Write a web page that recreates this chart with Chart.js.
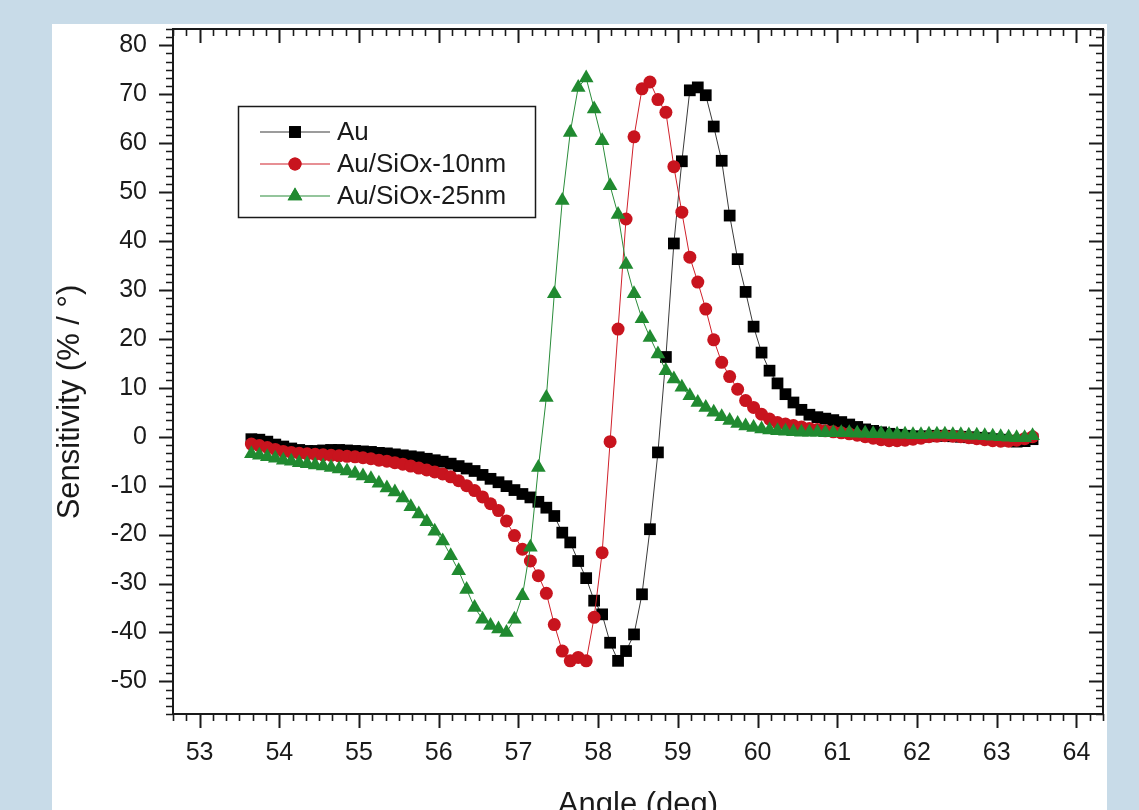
<!DOCTYPE html>
<html>
<head>
<meta charset="utf-8">
<script src="https://cdn.jsdelivr.net/npm/chart.js@4.4.1/dist/chart.umd.min.js"></script>
<style>
  html, body { margin: 0; padding: 0; background: #c8dbe8; overflow: hidden; }
  #panel { position: absolute; left: 52px; top: 24px; width: 1055px; height: 820px; background: #fff; }
  canvas { display: block; }
</style>
</head>
<body>
<div id="panel"><canvas id="sensChart" width="1055" height="820"></canvas></div>
<script>
// Angle of incidence (deg), shared by all three curves
const angles = [
  53.65, 53.75, 53.85, 53.95, 54.05, 54.15, 54.25, 54.35, 54.45, 54.55,
  54.65, 54.75, 54.85, 54.95, 55.05, 55.15, 55.25, 55.35, 55.45, 55.55,
  55.65, 55.75, 55.85, 55.95, 56.05, 56.15, 56.25, 56.35, 56.45, 56.55,
  56.65, 56.75, 56.85, 56.95, 57.05, 57.15, 57.25, 57.35, 57.45, 57.55,
  57.65, 57.75, 57.85, 57.95, 58.05, 58.15, 58.25, 58.35, 58.45, 58.55,
  58.65, 58.75, 58.85, 58.95, 59.05, 59.15, 59.25, 59.35, 59.45, 59.55,
  59.65, 59.75, 59.85, 59.95, 60.05, 60.15, 60.25, 60.35, 60.45, 60.55,
  60.65, 60.75, 60.85, 60.95, 61.05, 61.15, 61.25, 61.35, 61.45, 61.55,
  61.65, 61.75, 61.85, 61.95, 62.05, 62.15, 62.25, 62.35, 62.45, 62.55,
  62.65, 62.75, 62.85, 62.95, 63.05, 63.15, 63.25, 63.35, 63.45
];

// Sensitivity (% / deg)
const au = [
  -0.5, -0.6, -1.0, -1.6, -2.0, -2.4, -2.7, -2.9, -2.9, -2.8,
  -2.7, -2.7, -2.8, -2.9, -3.0, -3.1, -3.3, -3.4, -3.6, -3.8,
  -4.0, -4.2, -4.5, -4.8, -5.1, -5.5, -6.0, -6.5, -7.0, -7.8,
  -8.6, -9.3, -10.1, -10.9, -11.7, -12.4, -13.3, -14.5, -16.2, -19.6,
  -21.6, -25.4, -28.9, -33.5, -36.3, -42.1, -45.8, -43.8, -40.4, -32.2,
  -18.9, -3.2, 16.3, 39.5, 56.3, 70.8, 71.4, 69.8, 63.4, 56.4,
  45.2, 36.3, 29.6, 22.5, 17.2, 13.5, 10.9, 8.7, 7.0, 5.5,
  4.5, 4.0, 3.7, 3.4, 3.0, 2.5, 2.0, 1.5, 1.2, 0.9,
  0.6, 0.4, 0.2, 0.1, 0.0, 0.1, 0.2, 0.2, 0.1, 0.0,
  -0.1, -0.2, -0.3, -0.5, -0.6, -0.8, -1.0, -0.9, -0.5
];
const au10 = [
  -1.5, -1.8, -2.2, -2.6, -3.0, -3.2, -3.4, -3.5, -3.6, -3.7,
  -3.8, -3.9, -4.0, -4.1, -4.3, -4.5, -4.8, -5.0, -5.3, -5.6,
  -6.0, -6.4, -6.8, -7.2, -7.6, -8.2, -9.0, -10.0, -11.0, -12.3,
  -13.7, -15.1, -17.2, -20.2, -23.0, -25.4, -28.4, -32.0, -38.4, -43.8,
  -45.8, -45.1, -45.8, -36.9, -23.7, -1.0, 22.0, 44.5, 61.3, 71.1,
  72.5, 68.9, 66.3, 55.2, 45.9, 36.7, 31.6, 26.1, 19.8, 15.2,
  12.3, 9.7, 7.4, 6.0, 4.6, 3.6, 2.9, 2.6, 2.3, 2.0,
  1.7, 1.5, 1.2, 1.0, 0.8, 0.6, 0.3, 0.0, -0.3, -0.6,
  -0.8, -0.8, -0.7, -0.5, -0.3, 0.0, 0.1, 0.2, 0.1, 0.0,
  -0.2, -0.4, -0.6, -0.8, -0.9, -0.9, -0.7, -0.4, 0.0
];
const au25 = [
  -3.5, -3.8, -4.1, -4.4, -4.8, -5.0, -5.3, -5.5, -5.8, -6.0,
  -6.3, -6.6, -7.0, -7.5, -8.0, -8.6, -9.5, -10.5, -11.3, -12.5,
  -14.3, -15.8, -17.4, -19.3, -21.3, -24.3, -27.4, -31.2, -34.9, -37.3,
  -38.6, -39.3, -40.0, -37.3, -32.5, -22.6, -6.3, 8.0, 29.2, 48.3,
  62.2, 71.4, 73.3, 67.0, 60.5, 51.3, 45.4, 35.2, 29.2, 24.1,
  20.3, 16.9, 13.5, 11.8, 10.1, 8.4, 7.0, 6.0, 5.0, 4.1,
  3.3, 2.7, 2.2, 1.9, 1.6, 1.4, 1.2, 1.1, 1.0, 0.9,
  0.9, 0.9, 0.8, 0.8, 0.8, 0.8, 0.7, 0.7, 0.6, 0.6,
  0.5, 0.5, 0.5, 0.4, 0.4, 0.5, 0.5, 0.5, 0.4, 0.4,
  0.3, 0.3, 0.2, 0.1, 0.0, -0.1, -0.2, -0.2, 0.2
];

// Tick labels
const xTicks = [53, 54, 55, 56, 57, 58, 59, 60, 61, 62, 63, 64];
const yTicks = [-50, -40, -30, -20, -10, 0, 10, 20, 30, 40, 50, 60, 70, 80];
const minorPerMajor = 6;

const ink = '#1a1a1a';
const fontFamily = "'Liberation Sans', Arial, Helvetica, sans-serif";
Chart.defaults.font.family = fontFamily;
Chart.defaults.color = ink;

function toPoints(values) {
  return angles.map((a, i) => ({ x: a, y: values[i] }));
}

// Draws the boxed frame, Origin style ticks and the inset legend
const originFrame = {
  id: 'originFrame',
  afterDraw(chart) {
    const { ctx, chartArea: a, scales } = chart;
    const xs = scales.x, ys = scales.y;
    ctx.save();
    ctx.strokeStyle = ink;
    ctx.lineCap = 'butt';

    // x ticks: outward at the bottom, inward at the top
    const xStep = (xTicks[1] - xTicks[0]) / minorPerMajor;
    for (let j = -minorPerMajor; j <= (xTicks.length) * minorPerMajor; j++) {
      const v = xTicks[0] + j * xStep;
      if (v < xs.min - 1e-6 || v > xs.max + 1e-6) continue;
      const major = j % minorPerMajor === 0;
      const len = major ? 14 : 7;
      const px = Math.round(xs.getPixelForValue(v)) + 0.5;
      ctx.lineWidth = major ? 2 : 1.6;
      ctx.beginPath();
      ctx.moveTo(px, a.bottom); ctx.lineTo(px, a.bottom + len);
      ctx.moveTo(px, a.top); ctx.lineTo(px, a.top + len);
      ctx.stroke();
    }

    // y ticks: outward on the left, inward on the right
    const yStep = (yTicks[1] - yTicks[0]) / minorPerMajor;
    for (let j = -minorPerMajor; j <= (yTicks.length) * minorPerMajor; j++) {
      const v = yTicks[0] + j * yStep;
      if (v < ys.min - 1e-6 || v > ys.max + 1e-6) continue;
      const major = j % minorPerMajor === 0;
      const len = major ? 14 : 7;
      const py = Math.round(ys.getPixelForValue(v)) + 0.5;
      ctx.lineWidth = major ? 2 : 1.6;
      ctx.beginPath();
      ctx.moveTo(a.left - len, py); ctx.lineTo(a.left, py);
      ctx.moveTo(a.right - len, py); ctx.lineTo(a.right, py);
      ctx.stroke();
    }

    // plot frame
    ctx.lineWidth = 2;
    ctx.strokeRect(a.left, a.top, a.right - a.left, a.bottom - a.top);

    // y axis title
    ctx.save();
    ctx.translate(18, 378);
    ctx.rotate(-Math.PI / 2);
    ctx.font = '31px ' + fontFamily;
    ctx.fillStyle = ink;
    ctx.textAlign = 'center';
    ctx.textBaseline = 'middle';
    ctx.fillText('Sensitivity (% / °)', 0, 0);
    ctx.restore();

    // legend
    ctx.lineWidth = 1.5;
    ctx.strokeRect(186.5, 82.5, 297, 111);
    ctx.font = '26px ' + fontFamily;
    ctx.textAlign = 'left';
    ctx.textBaseline = 'middle';
    chart.data.datasets.forEach((ds, i) => {
      const rowY = 108 + i * 32;
      ctx.strokeStyle = ds.borderColor;
      ctx.lineWidth = 1.2;
      ctx.beginPath();
      ctx.moveTo(208, rowY); ctx.lineTo(278, rowY);
      ctx.stroke();
      ctx.fillStyle = ds.pointBackgroundColor;
      Chart.helpers.drawPoint(ctx, {
        pointStyle: ds.pointStyle, radius: ds.pointRadius, rotation: 0, borderWidth: 0
      }, 243, rowY);
      ctx.fill();
      ctx.fillStyle = ink;
      ctx.fillText(ds.label, 285, rowY + 1);
    });
    ctx.restore();
  }
};

new Chart(document.getElementById('sensChart'), {
  type: 'line',
  data: {
    datasets: [
      {
        label: 'Au',
        data: toPoints(au),
        borderColor: '#3a3a3a',
        borderWidth: 1,
        pointStyle: 'rect',
        pointRadius: 8.3,
        pointBackgroundColor: '#000000',
        pointBorderWidth: 0,
        order: 3
      },
      {
        label: 'Au/SiOx-10nm',
        data: toPoints(au10),
        borderColor: '#d0202a',
        borderWidth: 1,
        pointStyle: 'circle',
        pointRadius: 6.5,
        pointBackgroundColor: '#c8141e',
        pointBorderWidth: 0,
        order: 2
      },
      {
        label: 'Au/SiOx-25nm',
        data: toPoints(au25),
        borderColor: '#2a8c3a',
        borderWidth: 1,
        pointStyle: 'triangle',
        pointRadius: 8.5,
        pointBackgroundColor: '#208a30',
        pointBorderWidth: 0,
        order: 1
      }
    ]
  },
  options: {
    responsive: false,
    animation: false,
    devicePixelRatio: 1,
    layout: { autoPadding: false, padding: { left: 0, top: 5, right: 4, bottom: 0 } },
    plugins: {
      legend: { display: false },
      tooltip: { enabled: false }
    },
    elements: { line: { tension: 0 } },
    scales: {
      x: {
        type: 'linear',
        min: xTicks[0] - 2 / minorPerMajor,
        max: xTicks[xTicks.length - 1] + 2 / minorPerMajor,
        grid: { display: false },
        border: { display: false },
        ticks: { font: { size: 25 }, color: ink, padding: 16, maxRotation: 0 },
        title: {
          display: true,
          text: 'Angle (deg)',
          font: { size: 31 },
          color: ink,
          padding: { top: 0, bottom: 20 }
        },
        afterBuildTicks(scale) { scale.ticks = xTicks.map(v => ({ value: v })); },
        afterFit(scale) { scale.height = 130; scale.paddingLeft = 0; scale.paddingRight = 0; }
      },
      y: {
        type: 'linear',
        min: yTicks[0] - 4 * 10 / minorPerMajor,
        max: yTicks[yTicks.length - 1] + 2 * 10 / minorPerMajor,
        grid: { display: false },
        border: { display: false },
        ticks: { font: { size: 25 }, color: ink, padding: 18 },
        afterBuildTicks(scale) { scale.ticks = yTicks.map(v => ({ value: v })); },
        afterFit(scale) { scale.width = 121; scale.paddingTop = 0; scale.paddingBottom = 0; }
      }
    }
  },
  plugins: [originFrame]
});
</script>
</body>
</html>
